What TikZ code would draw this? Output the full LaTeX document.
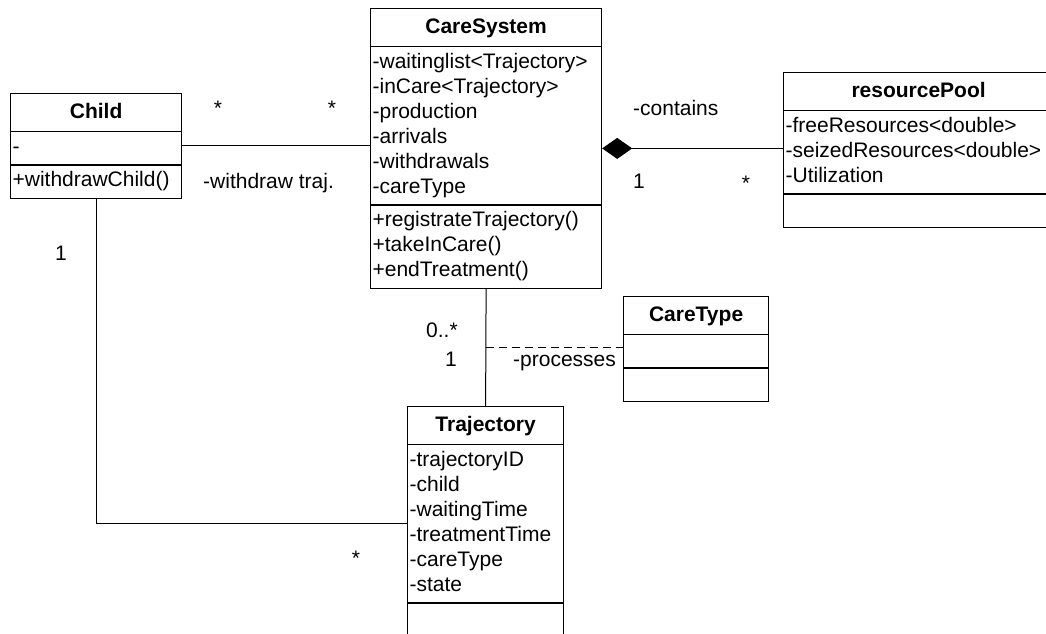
\documentclass[tikz,border=0pt]{standalone}
\usepackage{fontspec}
\setmainfont{Liberation Sans}
\usetikzlibrary{shapes.multipart,arrows.meta,calc}
\newcommand{\titlestrut}{\rule[-9pt]{0pt}{30pt}}

\begin{document}
\begin{tikzpicture}[
        x=1pt, y=-1pt,
        font=\fontsize{21}{25}\selectfont,
        umlclass/.style={draw, line width=1.2pt, rectangle split, rectangle split parts=3,
          align=left, inner xsep=2pt, inner ysep=3.5pt, anchor=north west},
        assoc/.style={draw, line width=1pt},
        lbl/.style={inner sep=0pt, anchor=base}
        ]
        \useasboundingbox (0,0) rectangle (1046,634);

        % classes
        \node[umlclass, text width=227pt] (sys) at (370,8) {\nodepart{one}{\centering\bfseries\titlestrut CareSystem\par}
        \nodepart{two}\strut-waitinglist<Trajectory>\\-inCare<Trajectory>\\-production\\-arrivals\\-withdrawals\\-careType\strut
        \nodepart{three}\strut+registrateTrajectory()\\+takeInCare()\\+endTreatment()\strut};
        \node[umlclass, text width=167pt] (child) at (10,93) {\nodepart{one}{\centering\bfseries\titlestrut Child\par}
        \nodepart{two}\strut-
        \nodepart{three}\strut+withdrawChild()};
        \node[umlclass, text width=266pt] (pool) at (783,72) {\nodepart{one}{\centering\bfseries\titlestrut resourcePool\par}
        \nodepart{two}\strut-freeResources<double>\\-seizedResources<double>\\-Utilization\strut
        \nodepart{three}\strut};
        \node[umlclass, text width=141pt] (ctype) at (623,296) {\nodepart{one}{\centering\bfseries\titlestrut CareType\par}
        \nodepart{two}\strut
        \nodepart{three}\strut};
        \node[umlclass, text width=152pt] (traj) at (407,406) {\nodepart{one}{\centering\bfseries\titlestrut Trajectory\par}
        \nodepart{two}\strut-trajectoryID\\-child\\-waitingTime\\-treatmentTime\\-careType\\-state\strut
        \nodepart{three}\strut};

        % associations
        \draw[assoc] (child.east) -- (child.east -| sys.west);
        \coordinate (trajin) at ($(traj.text split west)!.5!(traj.two split west)$);
        \draw[assoc] (child.south) |- (trajin);
        \draw[assoc, {Diamond[length=30pt,width=21pt]}-] (sys.east) -- (sys.east -| pool.west);
        \draw[assoc] (sys.south) -- (traj.north);
        \coordinate (mid) at ($(sys.south)!.5!(traj.north)$);
        \draw[assoc, dash pattern=on 8pt off 5pt] (mid) -- (mid -| ctype.west);

        % roles and multiplicities
        \node[lbl] (mchild) at (218,115) {*};
        \node[lbl] (msys) at (332,115) {*};
        \node[lbl, anchor=base west] (withdraw) at (203,188) {-withdraw traj.};
        \node[lbl] (mchildone) at (61,260) {1};
        \node[lbl, anchor=base west] (contains) at (633,115) {-contains};
        \node[lbl] (mpoolone) at (639,188) {1};
        \node[lbl] (mpoolmany) at (746,190) {*};
        \node[lbl, anchor=base west] (mtrajmany) at (426,337) {0..*};
        \node[lbl] (mtrajone) at (451,366) {1};
        \node[lbl, anchor=base west] (processes) at (513,366) {-processes};
        \node[lbl] (mtrajchild) at (356,565) {*};
\end{tikzpicture}
\end{document}
